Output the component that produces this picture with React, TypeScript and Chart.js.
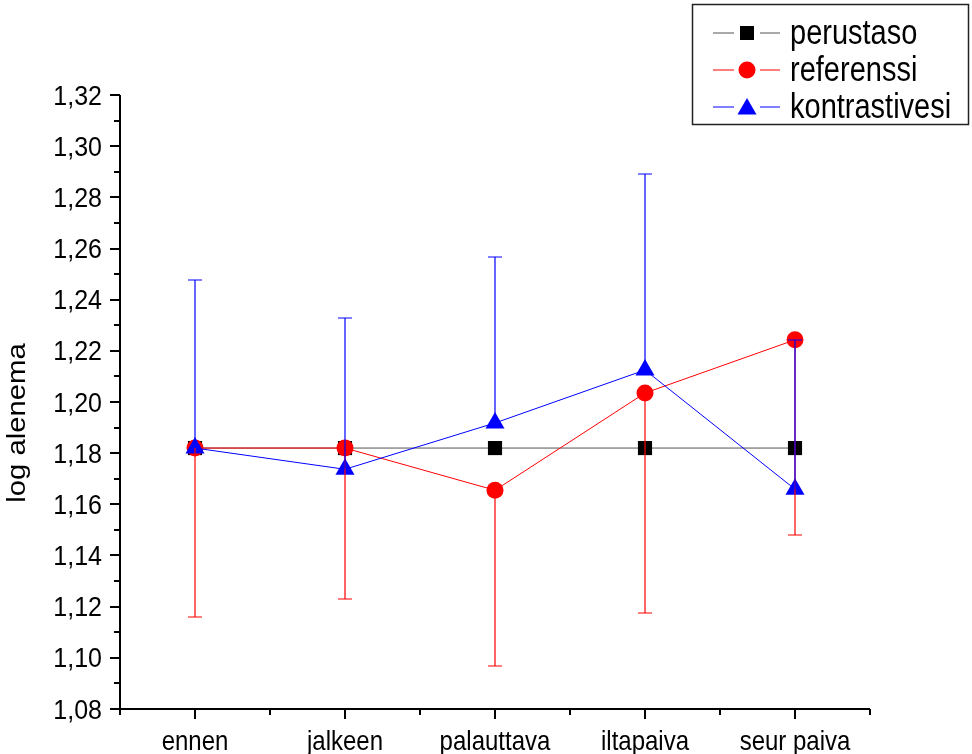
import React, { useEffect, useRef } from 'react';
import { Chart, registerables } from 'chart.js';

Chart.register(...registerables);

// ---- data ----
const categories = ['ennen', 'jalkeen', 'palauttava', 'iltapaiva', 'seur paiva'];
const perustaso = [1.182, 1.182, 1.182, 1.182, 1.182];
const referenssi = [1.182, 1.182, 1.1655, 1.2035, 1.2243];
const referenssiErrDown = [0.0659, 0.0589, 0.0686, 0.0859, 0.0761];
const kontrastivesi = [1.182, 1.1737, 1.1918, 1.2125, 1.1659];
const kontrastivesiErrUp = [0.0655, 0.0592, 0.0647, 0.0765, 0.0584];
const yMin = 1.08;
const yMax = 1.32;
const yStep = 0.02;
const yTitle = 'log alenema';
const seriesNames = ['perustaso', 'referenssi', 'kontrastivesi'];

const FONT = "'Liberation Sans', Arial, sans-serif";

function stretchedText(
  ctx: CanvasRenderingContext2D,
  text: string,
  x: number,
  y: number,
  size: number,
  sy: number,
  align: CanvasTextAlign
) {
  ctx.save();
  ctx.fillStyle = '#000';
  ctx.font = `${size}px ${FONT}`;
  ctx.textAlign = align;
  ctx.textBaseline = 'alphabetic';
  ctx.translate(x, y);
  ctx.scale(1, sy);
  ctx.fillText(text, 0, 0);
  ctx.restore();
}

const errorBarPlugin = {
  id: 'errorBars',
  afterDatasetsDraw(chart: any) {
    const { ctx, scales } = chart;
    const x = scales.x;
    const y = scales.y;
    const drawBars = (values: number[], errs: number[], dir: number, color: string) => {
      ctx.save();
      ctx.strokeStyle = color;
      ctx.lineWidth = 1.2;
      values.forEach((v, i) => {
        const px = Math.round(x.getPixelForValue(i));
        const y0 = y.getPixelForValue(v);
        const yy = Math.round(y.getPixelForValue(v + dir * errs[i]));
        ctx.beginPath();
        ctx.moveTo(px, y0);
        ctx.lineTo(px, yy);
        ctx.moveTo(px - 7, yy);
        ctx.lineTo(px + 7, yy);
        ctx.stroke();
      });
      ctx.restore();
    };
    drawBars(referenssi, referenssiErrDown, -1, '#ff0000');
    drawBars(kontrastivesi, kontrastivesiErrUp, 1, '#0000ff');
  },
};

const axesPlugin = {
  id: 'originAxes',
  afterDraw(chart: any) {
    const { ctx, chartArea, scales } = chart;
    const x = scales.x;
    const y = scales.y;
    ctx.save();
    ctx.strokeStyle = '#000';
    ctx.lineWidth = 2;
    ctx.lineCap = 'butt';
    ctx.beginPath();
    ctx.moveTo(chartArea.left, chartArea.top);
    ctx.lineTo(chartArea.left, chartArea.bottom + 1);
    ctx.moveTo(chartArea.left - 1, chartArea.bottom);
    ctx.lineTo(chartArea.right, chartArea.bottom);
    ctx.stroke();
    const nMinor = Math.round((yMax - yMin) / (yStep / 2));
    ctx.beginPath();
    for (let i = 0; i <= nMinor; i++) {
      const v = yMin + (i * yStep) / 2;
      const py = Math.round(y.getPixelForValue(v));
      const len = i % 2 === 0 ? 10 : 6;
      ctx.moveTo(chartArea.left - len, py);
      ctx.lineTo(chartArea.left, py);
    }
    for (let i = 0; i < categories.length; i++) {
      const px = Math.round(x.getPixelForValue(i));
      ctx.moveTo(px, chartArea.bottom);
      ctx.lineTo(px, chartArea.bottom + 10);
    }
    for (let i = 0; i <= categories.length; i++) {
      const px = Math.round(x.getPixelForValue(i - 0.5));
      ctx.moveTo(px, chartArea.bottom);
      ctx.lineTo(px, chartArea.bottom + 6);
    }
    ctx.stroke();
    ctx.restore();

    // tick labels from the library's scales
    y.ticks.forEach((t: any, i: number) => {
      const py = y.getPixelForTick(i);
      const label = Array.isArray(t.label) ? t.label.join(' ') : String(t.label);
      stretchedText(ctx, label, 102, py + 9.5, 25, 1.07, 'right');
    });
    x.ticks.forEach((t: any, i: number) => {
      const px = x.getPixelForTick(i);
      const label = Array.isArray(t.label) ? t.label.join(' ') : String(t.label);
      stretchedText(ctx, label, px, 750, 24, 1.18, 'center');
    });

    // y title
    ctx.save();
    ctx.fillStyle = '#000';
    ctx.translate(25, 423);
    ctx.rotate(-Math.PI / 2);
    ctx.scale(1.17, 1);
    ctx.font = `25px ${FONT}`;
    ctx.textAlign = 'center';
    ctx.textBaseline = 'alphabetic';
    ctx.fillText(yTitle, 0, 0);
    ctx.restore();
  },
};

function drawMarker(ctx: CanvasRenderingContext2D, style: string, cx: number, cy: number, color: string) {
  ctx.fillStyle = color;
  ctx.beginPath();
  if (style === 'rect') {
    ctx.rect(cx - 7, cy - 7, 14, 14);
  } else if (style === 'circle') {
    ctx.arc(cx, cy, 8.5, 0, Math.PI * 2);
  } else {
    const r = 11;
    ctx.moveTo(cx, cy - r);
    ctx.lineTo(cx + r * Math.sin((2 * Math.PI) / 3), cy + r / 2);
    ctx.lineTo(cx - r * Math.sin((2 * Math.PI) / 3), cy + r / 2);
    ctx.closePath();
  }
  ctx.fill();
}

const legendPlugin = {
  id: 'originLegend',
  afterDraw(chart: any) {
    const { ctx } = chart;
    ctx.save();
    ctx.strokeStyle = '#222';
    ctx.lineWidth = 1.5;
    ctx.strokeRect(692.5, 4.5, 276, 120);
    const items = [
      { label: seriesNames[0], line: '#555555', color: '#000000', style: 'rect', y: 33 },
      { label: seriesNames[1], line: '#ff0000', color: '#ff0000', style: 'circle', y: 70 },
      { label: seriesNames[2], line: '#0000ff', color: '#0000ff', style: 'triangle', y: 107 },
    ];
    items.forEach((it) => {
      ctx.strokeStyle = it.line;
      ctx.lineWidth = 1.2;
      ctx.beginPath();
      ctx.moveTo(713, it.y);
      ctx.lineTo(734, it.y);
      ctx.moveTo(760, it.y);
      ctx.lineTo(780, it.y);
      ctx.stroke();
      drawMarker(ctx, it.style, 747, it.y + (it.style === 'triangle' ? 2 : 0), it.color);
      stretchedText(ctx, it.label, 790, it.y + 10.5, 29, 1.2, 'left');
    });
    ctx.restore();
  },
};

export default function App() {
  const canvasRef = useRef<HTMLCanvasElement | null>(null);

  useEffect(() => {
    if (!canvasRef.current) return;
    const chart = new Chart(canvasRef.current, {
      type: 'line',
      data: {
        labels: categories,
        datasets: [
          {
            label: seriesNames[0],
            data: perustaso,
            borderColor: '#555555',
            backgroundColor: '#000000',
            pointBackgroundColor: '#000000',
            pointBorderColor: '#000000',
            pointStyle: 'rect',
            pointRadius: 10,
            pointBorderWidth: 0,
            borderWidth: 1,
            order: 2,
          },
          {
            label: seriesNames[1],
            data: referenssi,
            borderColor: '#ff0000',
            backgroundColor: '#ff0000',
            pointBackgroundColor: '#ff0000',
            pointBorderColor: '#ff0000',
            pointStyle: 'circle',
            pointRadius: 8.5,
            pointBorderWidth: 0,
            borderWidth: 1,
            order: 1,
          },
          {
            label: seriesNames[2],
            data: kontrastivesi,
            borderColor: '#0000ff',
            backgroundColor: '#0000ff',
            pointBackgroundColor: '#0000ff',
            pointBorderColor: '#0000ff',
            pointStyle: 'triangle',
            pointRadius: 11,
            pointBorderWidth: 0,
            borderWidth: 1,
            order: 0,
          },
        ],
      },
      options: {
        animation: false,
        responsive: true,
        maintainAspectRatio: false,
        layout: { padding: { top: 95, right: 102, left: 0, bottom: 0 } },
        plugins: {
          legend: { display: false },
          tooltip: { enabled: false },
        },
        scales: {
          x: {
            type: 'category',
            offset: true,
            grid: { display: false, drawTicks: false, tickLength: 0 },
            border: { display: false },
            ticks: { display: false, autoSkip: false, maxRotation: 0 },
            afterFit(scale: any) {
              scale.height = 45;
            },
          },
          y: {
            type: 'linear',
            min: yMin,
            max: yMax,
            grid: { display: false, drawTicks: false, tickLength: 0 },
            border: { display: false },
            ticks: {
              display: false,
              stepSize: yStep,
              callback: (v: any) => Number(v).toFixed(2).replace('.', ','),
            },
            afterFit(scale: any) {
              scale.width = 120;
            },
          },
        },
      },
      plugins: [errorBarPlugin, axesPlugin, legendPlugin],
    });
    return () => chart.destroy();
  }, []);

  return (
    <div style={{ position: 'fixed', left: 0, top: 0, width: 972, height: 754, background: '#fff' }}>
      <canvas ref={canvasRef} />
    </div>
  );
}
